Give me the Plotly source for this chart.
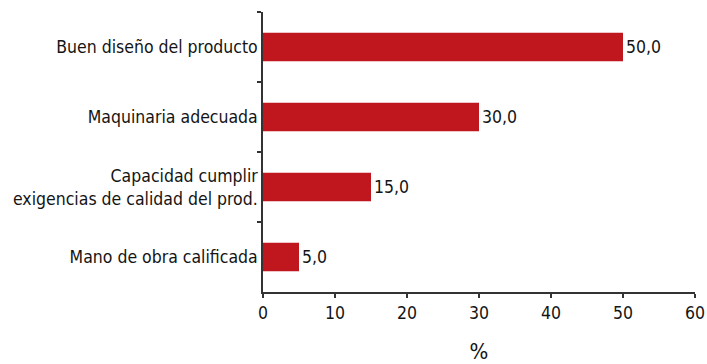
import plotly.graph_objects as go

# Factores competitivos (porcentaje de empresas)
categorias = [
    "Buen diseño del producto",
    "Maquinaria adecuada",
    "Capacidad cumplir<br>exigencias de calidad del prod.",
    "Mano de obra calificada",
]
valores = [50.0, 30.0, 15.0, 5.0]
ticks_x = [0, 10, 20, 30, 40, 50, 60]

FONT = "DejaVu Sans Condensed, Liberation Sans Narrow, Roboto, sans-serif"
ROJO = "#C0161E"
TEXTO = "#141414"

fig = go.Figure(
    go.Bar(
        x=valores,
        y=categorias,
        orientation="h",
        marker=dict(color=ROJO, line=dict(width=0)),
        width=0.41,
        text=[f"{v:.1f}".replace(".", ",") for v in valores],
        textposition="outside",
        textfont=dict(family=FONT, size=17.5, color=TEXTO),
        cliponaxis=False,
    )
)

fig.update_layout(
    width=707,
    height=364,
    margin=dict(l=263, r=12, t=12, b=72),
    paper_bgcolor="white",
    plot_bgcolor="white",
    font=dict(family=FONT, size=17.5, color=TEXTO),
    showlegend=False,
)

fig.update_xaxes(
    range=[0, 60],
    tickvals=ticks_x,
    ticktext=[str(t) for t in ticks_x],
    automargin=False,
    showgrid=False,
    zeroline=False,
    showline=True,
    linecolor="#333333",
    linewidth=1.5,
    ticks="outside",
    ticklen=4,
    tickcolor="#333333",
    tickwidth=1.5,
    title=dict(text="%", standoff=22, font=dict(family=FONT, size=22)),
)

fig.update_yaxes(
    categoryorder="array",
    categoryarray=categorias,
    autorange="reversed",
    automargin=False,
    showgrid=False,
    zeroline=False,
    showline=True,
    linecolor="#333333",
    linewidth=1.5,
    ticks="outside",
    ticklen=4,
    tickcolor="#333333",
    tickwidth=1.5,
    tickson="boundaries",
)

fig.write_html("out.html")
